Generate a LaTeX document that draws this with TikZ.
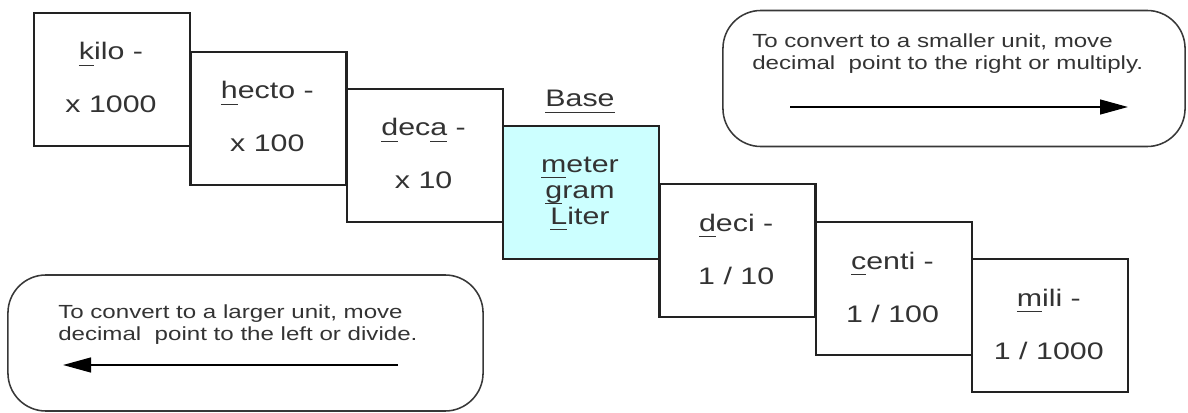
\documentclass[tikz,border=0pt]{standalone}
\usepackage{fontspec}
\setmainfont{Liberation Sans}
\newfontfamily\widesans[FakeStretch=1.27]{Liberation Sans}
\usetikzlibrary{arrows.meta}
\definecolor{basecyan}{HTML}{CCFFFF}
\definecolor{inkgray}{HTML}{333333}
\definecolor{framegray}{HTML}{222222}
\newsavebox\ulbox
\newcommand{\ulet}[1]{\sbox\ulbox{#1}\rlap{\rule[-0.27em]{\wd\ulbox}{0.075em}}\usebox\ulbox}

\begin{document}
\begin{tikzpicture}[x=0.025cm,y=-0.025cm,
  unit box/.style={draw=framegray,line width=1.7pt,fill=white,anchor=north west,inner sep=0pt,minimum width=3.9cm,minimum height=3.325cm},
  unit text/.style={text=inkgray,anchor=base,inner sep=0pt,font=\widesans\fontsize{17}{20}\selectfont},
  note box/.style={draw=framegray!90,line width=1.1pt,rounded corners=0.95cm,inner sep=0pt,minimum height=3.4cm},
  note text/.style={text=inkgray,anchor=base west,inner sep=0pt,font=\widesans\fontsize{13.5}{16}\selectfont},
  conv arrow/.style={draw=black,line width=1.4pt,-{Triangle[length=0.7cm,width=0.37cm]}}]
\useasboundingbox (0,0) rectangle (1188,413);

% prefix boxes
\foreach \nm/\xl/\yt/\pre/\fac in {
  kilo/33/12/{\ulet{k}ilo -}/{x 1000},
  hecto/189.3/51/{\ulet{h}ecto -}/{x 100},
  deca/345.6/88/{\ulet{d}ec\ulet{a} -}/{x 10},
  deci/658.2/183/{\ulet{d}eci -}/{1 / 10},
  centi/814.5/221/{\ulet{c}enti -}/{1 / 100},
  mili/970.8/258/{\ulet{m}ili -}/{1 / 1000}}
{
  \node[unit box] (\nm) at (\xl,\yt) {};
  \node[unit text] (\nm-prefix) at (\xl+78,\yt+48) {\pre};
  \node[unit text] (\nm-factor) at (\xl+78,\yt+101) {\fac};
}

% base unit
\node[unit box,fill=basecyan] (base) at (502,125) {};
\node[unit text] (base-title) at (580,107) {\ulet{Base}};
\node[unit text] (base-meter) at (580,172) {\ulet{m}eter};
\node[unit text] (base-gram) at (580,198) {\ulet{g}ram};
\node[unit text] (base-liter) at (580,224) {\ulet{L}iter};

% to a smaller unit
\node[note box,minimum width=11.55cm] (smallerbox) at (954,78.5) {};
\node[note text] (smallerline1) at (752,48) {To convert to a smaller unit, move};
\node[note text] (smallerline2) at (752,70) {decimal\ \ point to the right or multiply.};
\coordinate (smallerstart) at (790,107);
\coordinate (smallerstop) at (1128,107);
\draw[conv arrow] (smallerstart) -- (smallerstop);

% to a larger unit
\node[note box,minimum width=11.875cm] (largerbox) at (245.5,343) {};
\node[note text] (largerline1) at (58,318) {To convert to a larger unit, move};
\node[note text] (largerline2) at (58,340) {decimal\ \ point to the left or divide.};
\coordinate (largerstart) at (398,365);
\coordinate (largerstop) at (63,365);
\draw[conv arrow] (largerstart) -- (largerstop);

\end{tikzpicture}
\end{document}
